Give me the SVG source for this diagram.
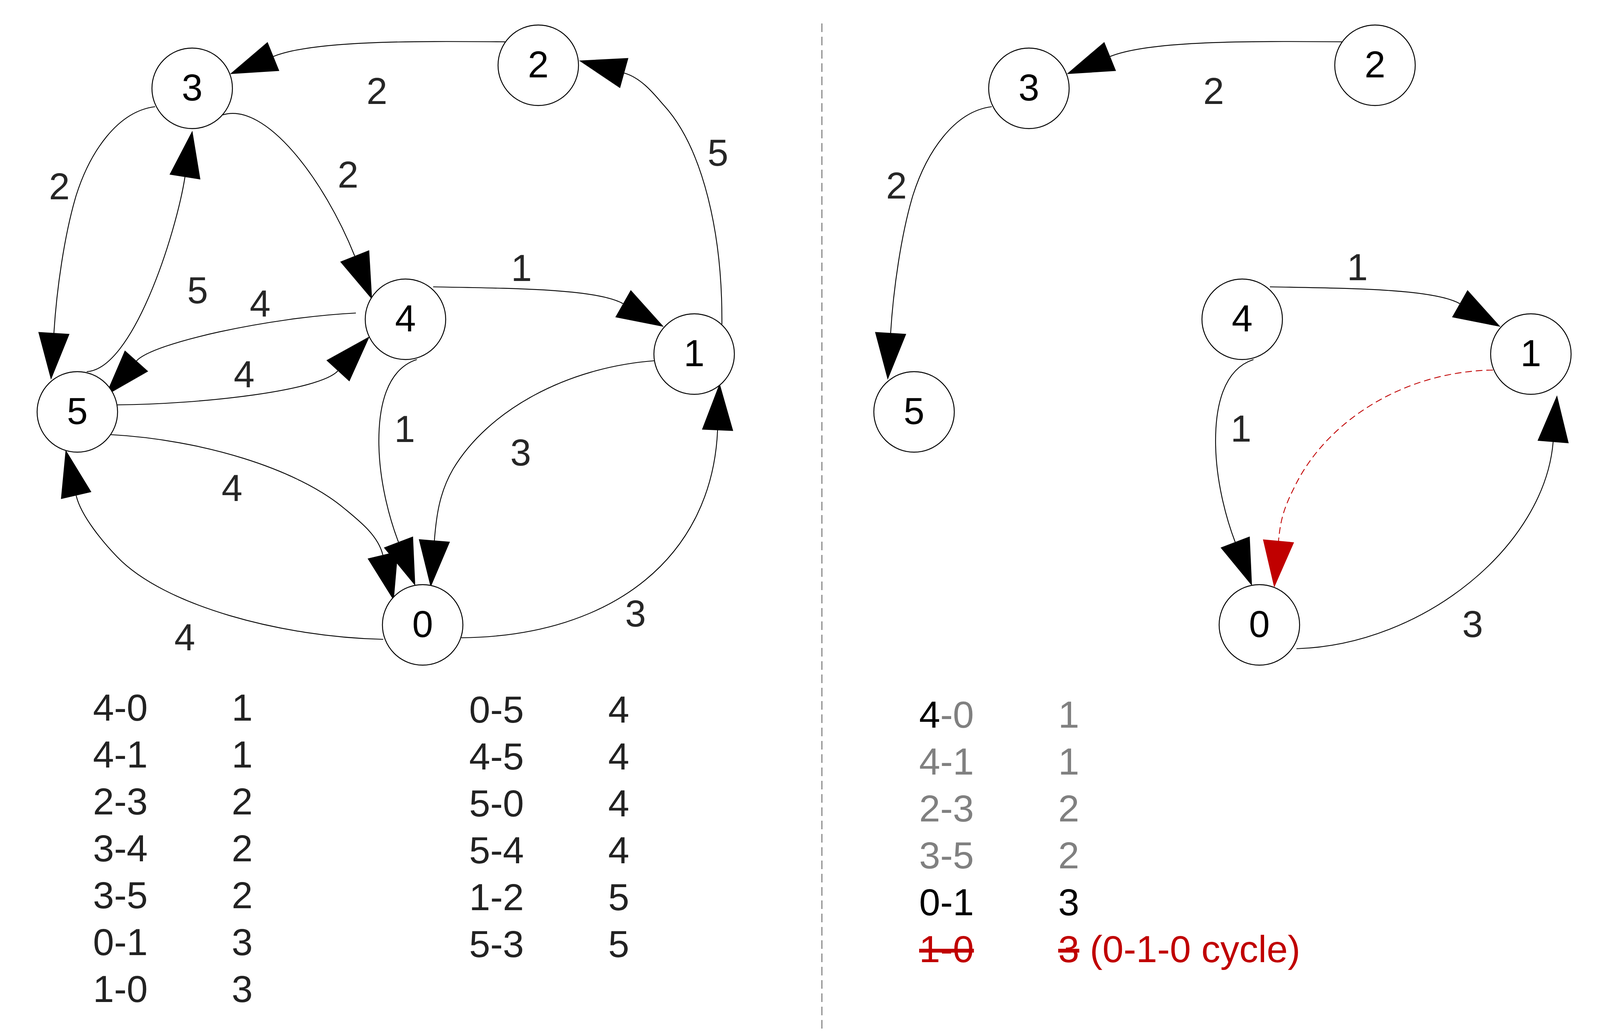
<svg xmlns="http://www.w3.org/2000/svg" width="6171" height="2651" viewBox="0 0 6171 2651">
<defs>
<style>
.edge{fill:none;stroke:#000;stroke-width:2.2;marker-end:url(#ah)}
.edge.dash{stroke:#c00000;stroke-dasharray:17 10;marker-end:url(#ahr)}
.node circle{fill:#fff;stroke:#000;stroke-width:2.4}
.node text{font-family:"Liberation Sans",Arial,sans-serif;font-size:96px;fill:#000;text-anchor:middle}
.lbl{font-family:"Liberation Sans",Arial,sans-serif;font-size:96px;fill:#262626;text-anchor:middle}
.tb{font-family:"Liberation Sans",Arial,sans-serif;font-size:97px;fill:#222}
.tgray{fill:#808080}
.tblk{fill:#000}
.tred{fill:#c00000}
.strike{text-decoration:line-through}
</style>
<marker id="ah" markerUnits="userSpaceOnUse" viewBox="0 0 120 80" markerWidth="120" markerHeight="80" refX="0" refY="40" orient="auto" overflow="visible"><path d="M0,0 L120,40 L0,80 z" fill="#000"/></marker>
<marker id="ahr" markerUnits="userSpaceOnUse" viewBox="0 0 120 80" markerWidth="120" markerHeight="80" refX="0" refY="40" orient="auto" overflow="visible"><path d="M0,0 L120,40 L0,80 z" fill="#c00000"/></marker>
</defs>
<rect width="6171" height="2651" fill="#fff"/>

<!-- LEFT GRAPH -->
<g id="left-graph">
<g id="left-connectors">
<path class="edge" d="M1293,107 C1050,105 800,104 700,144.5"/>
<path class="edge" d="M397,273 C300,285 230,390 195,500 C165,600 145,740 138,852"/>
<path class="edge" d="M570,294 C680,260 830,460 908,655"/>
<path class="edge" d="M222,951 C340,945 450,600 473.5,453"/>
<path class="edge" d="M911,801 C690,812 391,877 349.5,923.5"/>
<path class="edge" d="M300,1036 C520,1034 818,1000 865,949"/>
<path class="edge" d="M1109,734 C1330,738 1530,740 1595,777"/>
<path class="edge" d="M1067,920 C990,945 968,1040 970,1140 C972,1240 1000,1335 1020,1387"/>
<path class="edge" d="M1676,923 C1450,940 1250,1050 1160,1200 C1125,1260 1117,1320 1112,1383"/>
<path class="edge" d="M281,1112 C520,1125 760,1200 880,1300 C920,1333 968,1370 980,1420"/>
<path class="edge" d="M981,1636 C720,1630 420,1550 300,1425 C265,1389 207,1320 195,1268"/>
<path class="edge" d="M1181,1632 C1575,1628 1823,1420 1837,1101"/>
<path class="edge" d="M1848,830 C1850,600 1800,380 1700,270 C1680,248 1645,200 1598,187"/>
</g>
<g id="left-edge-labels">
<text class="lbl" x="965" y="266">2</text>
<text class="lbl" x="152" y="510">2</text>
<text class="lbl" x="891" y="480">2</text>
<text class="lbl" x="506" y="776">5</text>
<text class="lbl" x="666" y="810">4</text>
<text class="lbl" x="625" y="991">4</text>
<text class="lbl" x="1335" y="719">1</text>
<text class="lbl" x="1036" y="1131">1</text>
<text class="lbl" x="1333" y="1191">3</text>
<text class="lbl" x="594" y="1282">4</text>
<text class="lbl" x="473" y="1664">4</text>
<text class="lbl" x="1627" y="1603">3</text>
<text class="lbl" x="1838" y="424">5</text>
</g>
<g id="L-n3" class="node"><circle cx="492" cy="226" r="103"/><text x="492" y="257">3</text></g>
<g id="L-n2" class="node"><circle cx="1378" cy="167" r="103"/><text x="1378" y="198">2</text></g>
<g id="L-n4" class="node"><circle cx="1038" cy="817" r="103"/><text x="1038" y="848">4</text></g>
<g id="L-n1" class="node"><circle cx="1777" cy="906" r="103"/><text x="1777" y="937">1</text></g>
<g id="L-n5" class="node"><circle cx="198" cy="1054" r="103"/><text x="198" y="1085">5</text></g>
<g id="L-n0" class="node"><circle cx="1082" cy="1599" r="103"/><text x="1082" y="1630">0</text></g>
</g>

<g id="left-table" class="tb">
<text x="238" y="1844">4-0</text><text x="593" y="1844">1</text>
<text x="238" y="1964">4-1</text><text x="593" y="1964">1</text>
<text x="238" y="2084">2-3</text><text x="593" y="2084">2</text>
<text x="238" y="2204">3-4</text><text x="593" y="2204">2</text>
<text x="238" y="2324">3-5</text><text x="593" y="2324">2</text>
<text x="238" y="2444">0-1</text><text x="593" y="2444">3</text>
<text x="238" y="2564">1-0</text><text x="593" y="2564">3</text>
<text x="1201" y="1849">0-5</text><text x="1557" y="1849">4</text>
<text x="1201" y="1969">4-5</text><text x="1557" y="1969">4</text>
<text x="1201" y="2089">5-0</text><text x="1557" y="2089">4</text>
<text x="1201" y="2209">5-4</text><text x="1557" y="2209">4</text>
<text x="1201" y="2329">1-2</text><text x="1557" y="2329">5</text>
<text x="1201" y="2449">5-3</text><text x="1557" y="2449">5</text>
</g>

<line id="separator" x1="2104" y1="60" x2="2104" y2="2640" stroke="#888" stroke-width="3" stroke-dasharray="22 12"/>

<!-- MIDDLE GRAPH -->
<g id="middle-graph" transform="translate(2142,0)">
<g id="middle-connectors">
<path class="edge" d="M1293,107 C1050,105 800,104 700,144.5"/>
<path class="edge" d="M397,273 C300,285 230,390 195,500 C165,600 145,740 138,852"/>
<path class="edge" d="M1109,734 C1330,738 1530,740 1595,777"/>
<path class="edge" d="M1067,920 C990,945 968,1040 970,1140 C972,1240 1000,1335 1020,1387"/>
<path class="edge dash" d="M1680,947 C1450,950 1250,1080 1170,1250 C1145,1300 1136,1330 1131,1384"/>
<path class="edge" d="M1177,1660 C1505,1650 1812,1395 1834,1131"/>
</g>
<g id="middle-edge-labels">
<text class="lbl" x="965" y="266">2</text>
<text class="lbl" x="153" y="508">2</text>
<text class="lbl" x="1333" y="717">1</text>
<text class="lbl" x="1035" y="1130">1</text>
<text class="lbl" x="1628" y="1630">3</text>
</g>
<g id="M-n3" class="node"><circle cx="492" cy="226" r="103"/><text x="492" y="257">3</text></g>
<g id="M-n2" class="node"><circle cx="1378" cy="167" r="103"/><text x="1378" y="198">2</text></g>
<g id="M-n4" class="node"><circle cx="1038" cy="817" r="103"/><text x="1038" y="848">4</text></g>
<g id="M-n1" class="node"><circle cx="1777" cy="906" r="103"/><text x="1777" y="937">1</text></g>
<g id="M-n5" class="node"><circle cx="198" cy="1054" r="103"/><text x="198" y="1085">5</text></g>
<g id="M-n0" class="node"><circle cx="1082" cy="1599" r="103"/><text x="1082" y="1630">0</text></g>
</g>

<g id="middle-table" class="tb">
<text x="2353" y="1862"><tspan class="tblk">4</tspan><tspan class="tgray">-0</tspan></text><text class="tgray" x="2709" y="1862">1</text>
<text class="tgray" x="2353" y="1982">4-1</text><text class="tgray" x="2709" y="1982">1</text>
<text class="tgray" x="2353" y="2102">2-3</text><text class="tgray" x="2709" y="2102">2</text>
<text class="tgray" x="2353" y="2222">3-5</text><text class="tgray" x="2709" y="2222">2</text>
<text class="tblk" x="2353" y="2342">0-1</text><text class="tblk" x="2709" y="2342">3</text>
<text class="tred strike" x="2353" y="2462">1-0</text><text class="tred" x="2709" y="2462"><tspan class="strike">3</tspan> (0-1-0 cycle)</text>
</g>

<!-- RIGHT GRAPH -->
<g id="right-graph" transform="translate(4076,0)">
<g id="right-connectors">
<path class="edge" d="M1293,107 C1050,105 800,104 700,144.5"/>
<path class="edge" d="M397,273 C300,285 230,390 195,500 C165,600 145,740 138,852"/>
<path class="edge" d="M1109,734 C1330,738 1530,740 1595,777"/>
<path class="edge" d="M1067,920 C990,945 968,1040 970,1140 C972,1240 1000,1335 1020,1387"/>
<path class="edge" d="M1165,1660 C1491,1650 1793.5,1396 1817.5,1131.5"/>
<path class="edge dash" d="M300,1036 C520,1034 818,1000 865,949"/>
</g>
<g id="right-edge-labels">
<text class="lbl" x="965" y="266">2</text>
<text class="lbl" x="154" y="508">2</text>
<text class="lbl" x="1335" y="717">1</text>
<text class="lbl" x="1036" y="1130">1</text>
<text class="lbl" x="1614" y="1630">3</text>
</g>
<g id="R-n3" class="node"><circle cx="492" cy="226" r="103"/><text x="492" y="257">3</text></g>
<g id="R-n2" class="node"><circle cx="1378" cy="167" r="103"/><text x="1378" y="198">2</text></g>
<g id="R-n4" class="node"><circle cx="1038" cy="817" r="103"/><text x="1038" y="848">4</text></g>
<g id="R-n1" class="node"><circle cx="1777" cy="906" r="103"/><text x="1777" y="937">1</text></g>
<g id="R-n5" class="node"><circle cx="198" cy="1054" r="103"/><text x="198" y="1085">5</text></g>
<g id="R-n0" class="node"><circle cx="1082" cy="1599" r="103"/><text x="1082" y="1630">0</text></g>
</g>

<g id="right-table" class="tb">
<text class="tgray" x="4227" y="1853">4-0</text><text class="tgray" x="4579" y="1853">1</text>
<text class="tgray" x="4227" y="1973">4-1</text><text class="tgray" x="4579" y="1973">1</text>
<text class="tgray" x="4227" y="2093">2-3</text><text class="tgray" x="4579" y="2093">2</text>
<text class="tgray" x="4227" y="2213">3-5</text><text class="tgray" x="4579" y="2213">2</text>
<text class="tgray" x="4227" y="2333">0-1</text><text class="tgray" x="4579" y="2333">3</text>
<text class="tred strike" x="5040" y="1835">0-5</text><text class="tred" x="5397" y="1835">4 (3 arcs at ‘0’)</text>
<text class="tred strike" x="5040" y="1955">4-5</text><text class="tred" x="5397" y="1955">4 (3 arcs at ‘4’)</text>
<text class="tred strike" x="5040" y="2075">5-0</text><text class="tred" x="5397" y="2075">4 (3 arcs at ‘0’)</text>
<text class="tred strike" x="5040" y="2195">5-4</text><text class="tred" x="5397" y="2195">4 (3 arcs at ‘4’)</text>
</g>
</svg>
